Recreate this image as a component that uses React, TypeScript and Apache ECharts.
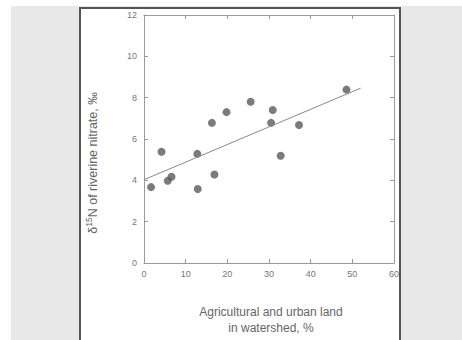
import React, { useEffect, useRef } from "react";
import * as echarts from "echarts";

const landPct = [1.7, 4.2, 5.7, 6.6, 12.9, 16.9, 12.8, 16.3, 19.8, 25.6, 30.9, 30.5, 37.2, 32.8, 48.6];
const d15N = [3.67, 5.38, 3.98, 4.17, 3.58, 4.28, 5.28, 6.78, 7.3, 7.8, 7.4, 6.78, 6.68, 5.19, 8.39];
const trendX = [0, 52];
const trendY = [4.03, 8.46];

const FONT = "Liberation Sans, Arial, sans-serif";

export default function App() {
  const ref = useRef<HTMLDivElement>(null);
  useEffect(() => {
    if (!ref.current) return;
    const chart = echarts.init(ref.current, null, { renderer: "svg" });
    const axisLine = { show: true, onZero: false, lineStyle: { color: "#9a9a9a", width: 1 } };
    const axisTick = { show: true, inside: true, length: 4, lineStyle: { color: "#9a9a9a" } };
    chart.setOption({
      animation: false,
      backgroundColor: "#ffffff",
      graphic: [
        { type: "rect", z: -10, shape: { x: 11, y: 6, width: 451, height: 334 }, style: { fill: "#e8e8e8" } },
        { type: "rect", z: -9, shape: { x: 80, y: 8, width: 320, height: 340 }, style: { fill: "#ffffff", stroke: "#555555", lineWidth: 2 } },
        {
          type: "text",
          x: 92,
          y: 163,
          rotation: Math.PI / 2,
          style: {
            text: "{d|δ}{s|15}{d|N of riverine nitrate, ‰}",
            fill: "#666666",
            font: `12.5px ${FONT}`,
            align: "center",
            verticalAlign: "middle",
            rich: {
              d: { fontSize: 12.5, fontFamily: FONT, fill: "#666666", lineHeight: 15, verticalAlign: "bottom" },
              s: { fontSize: 8.5, fontFamily: FONT, fill: "#666666", lineHeight: 15, verticalAlign: "top" },
            },
          },
        },
        {
          type: "text",
          x: 271,
          y: 320,
          style: {
            text: "Agricultural and urban land\nin watershed, %",
            fill: "#666666",
            font: `12px ${FONT}`,
            lineHeight: 16,
            align: "center",
            verticalAlign: "middle",
          },
        },
      ],
      grid: { left: 144, top: 15, width: 250, height: 248, containLabel: false },
      xAxis: [
        {
          type: "value", min: 0, max: 60, interval: 10, position: "bottom",
          axisLine, axisTick, splitLine: { show: false },
          axisLabel: { color: "#777777", fontSize: 9, fontFamily: FONT, margin: 6 },
        },
        {
          type: "value", min: 0, max: 60, interval: 10, position: "top",
          axisLine, axisTick, splitLine: { show: false }, axisLabel: { show: false },
        },
      ],
      yAxis: [
        {
          type: "value", min: 0, max: 12, interval: 2, position: "left",
          axisLine, axisTick, splitLine: { show: false },
          axisLabel: { color: "#777777", fontSize: 9, fontFamily: FONT, margin: 7 },
        },
        {
          type: "value", min: 0, max: 12, interval: 2, position: "right",
          axisLine, axisTick, splitLine: { show: false }, axisLabel: { show: false },
        },
      ],
      series: [
        {
          type: "line",
          data: trendX.map((x, i) => [x, trendY[i]]),
          showSymbol: false,
          symbol: "none",
          lineStyle: { color: "#8a8a8a", width: 1 },
          silent: true,
        },
        {
          type: "scatter",
          data: landPct.map((x, i) => [x, d15N[i]]),
          symbol: "circle",
          symbolSize: 8,
          itemStyle: { color: "#5a5a5a" },
        },
      ],
    });
    return () => chart.dispose();
  }, []);
  return <div ref={ref} style={{ position: "fixed", left: 0, top: 0, width: 462, height: 340 }} />;
}
